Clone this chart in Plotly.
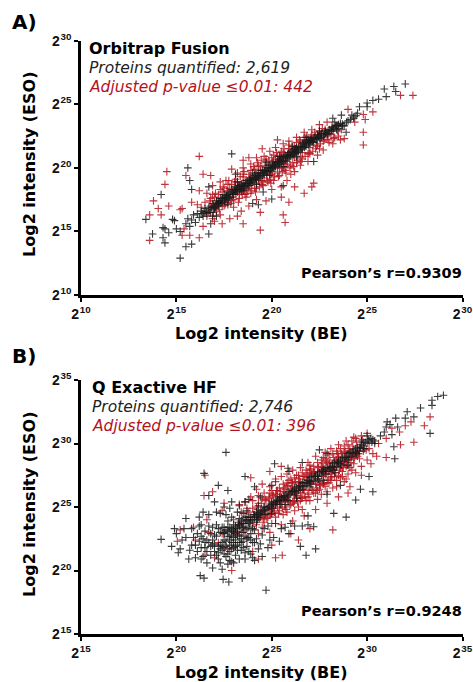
import plotly.graph_objects as go

# Panel A: (BE, ESO) log2 values
a_red = [(16.2,20.9),(14.5,19.7),(14.4,18.7),(13.8,17.4),(13.6,16.3),(13.6,14.3),(14.2,16.3),(14.05,16.8),(14.6,17.0),(15.2,16.7),(15.3,16.8),
(15.5,19.4),(15.8,17.3),(16.2,18.2),(16.4,19.5),(16.8,19.4),(15.7,14.7),(16.2,14.5),(15.3,14.7),(15.4,15.2),(27.4,25.7),(26.75,25.7),(25.3,24.4),
(24.8,24.2),(24.9,23.8),(24.8,22.8),(24.8,21.8),(24.0,24.6),(24.35,23.6),(23.8,22.3),(20.3,22.2),(19.5,21.5),(18.8,20.8),(18.5,20.6),(22.2,18.8),
(22.1,18.5),(21.7,18.0),(21.2,18.5),(21.2,19.7),(20.9,17.3),(20.5,17.7),(20.6,16.3),(20.7,15.7),(19.4,15.1),(18.5,15.6),(18.2,16.2),(19.4,16.5),
(17.0,15.8),(17.4,15.6),(16.4,15.4),(16.9,16.0),(17.3,16.3),(17.8,16.0),(18.0,16.9),(18.4,16.6),(18.8,17.0),(19.2,17.5),(19.7,17.4),(20.0,18.3),
(20.5,18.5),(20.8,19.0),(21.0,19.5),(21.5,20.2),(21.9,20.5),(22.4,21.0),(22.7,21.4),(23.2,21.9),(23.6,22.2),(16.6,18.0),(16.9,18.6),(17.3,18.9),
(17.6,19.0),(17.9,19.9),(18.2,19.6),(18.5,20.0),(18.9,20.3),(19.2,20.8),(19.6,20.9),(19.9,21.3),(20.2,21.6),(20.6,21.9),(20.9,22.1),(21.3,22.4),
(21.7,22.8),(22.1,23.0),(22.5,23.4),(22.9,23.6),(16.3,16.9),(16.6,16.2),(16.8,17.6),(17.0,16.9),(17.2,17.9),(17.4,17.0),(17.5,18.4),(17.7,17.3),
(17.9,18.7),(18.0,17.5),(18.2,18.9),(18.3,17.6),(18.5,19.3),(18.6,17.9),(18.8,19.5),(18.9,18.0),(19.1,19.9),(19.2,18.4),(19.4,20.1),(19.5,18.7),
(19.7,20.5),(19.8,18.9),(20.0,20.8),(20.1,19.0),(20.3,20.9),(20.4,19.4),(20.6,21.2),(20.7,19.8),(20.9,21.5),(21.0,20.2),(21.2,21.7),(21.3,20.4),
(21.5,22.1),(21.6,20.7),(21.8,22.2),(22.0,21.1),(22.3,22.5),(22.5,21.5),(22.8,23.0),(23.0,22.0),(23.4,23.3),(23.5,22.5),(16.1,17.1),(17.1,17.3),
(17.6,17.7),(18.1,18.2),(18.4,18.6),(18.7,18.3),(18.9,19.1),(19.3,19.0),(19.5,19.6),(19.9,19.5),(20.2,20.3),(20.5,20.0),(20.8,20.5),(21.1,21.1),
(16.5,17.3),(16.7,16.5),(16.9,17.9),(17.1,16.6),(17.3,18.3),(17.5,17.0),(17.7,18.7),(17.9,17.4),(18.1,19.1),(18.3,17.9),(18.5,19.5),(18.7,18.0),
(18.9,19.8),(19.1,18.4),(19.3,20.2),(19.5,18.9),(19.7,20.7),(19.9,19.1),(20.1,21.0),(20.3,19.6),(20.5,21.3),(20.7,20.1),(20.9,21.8),(21.1,20.4),
(21.3,22.0),(21.5,20.8),(21.7,22.4),(21.9,21.1),(22.1,22.6),(22.3,21.5),(22.5,22.9),(22.7,22.1),(23.1,22.6),(23.3,22.4),(16.8,17.0),(17.0,17.7),
(17.2,17.2),(17.4,18.1),(17.6,17.3),(17.8,18.4),(18.0,18.0),(18.2,18.4),(18.4,18.1),(18.6,19.0),(18.8,18.4),(19.0,19.3),(19.2,18.8),(19.4,19.8),
(19.6,19.2),(19.8,20.2),(20.0,19.5),(20.2,20.7),(20.4,20.0),(20.6,20.9),(20.8,20.3),(21.0,21.3),(21.2,20.8),(21.4,21.7),(21.6,21.2),(21.8,21.9),
(22.0,21.6),(22.2,22.3),(22.4,21.8),(22.6,22.7),
(16.75,17.4),(16.95,16.5),(17.05,18.0),(17.25,16.7),(17.45,18.5),(17.55,17.1),(17.75,19.0),(17.85,17.2),(18.05,18.9),(18.25,17.3),(18.35,19.3),(18.45,17.9),
(18.55,19.7),(18.65,17.7),(18.85,19.2),(18.95,18.2),(19.05,20.1),(19.15,18.1),(19.25,20.4),(19.35,18.5),(19.45,20.6),(19.55,18.6),(19.65,20.2),(19.75,19.0),
(19.85,20.6),(19.95,18.8),(20.05,20.5),(20.15,19.3),(20.25,21.2),(20.35,19.3),(20.45,20.9),(20.55,19.7),(20.65,21.5),(20.75,19.6),(20.85,21.1),(20.95,20.0),
(21.05,21.7),(21.15,20.1),(21.25,21.5),(21.35,20.6),(21.45,22.2),(21.55,20.5),(21.65,21.9),(21.75,20.9),(21.85,22.5),(21.95,21.2),(22.05,22.4),(22.15,21.3),
(22.25,22.8),(22.35,21.7),(22.45,22.5),(22.55,21.9),(22.65,23.1),(22.75,22.2),(22.85,22.6),(22.95,22.2),(23.15,23.2),(23.25,22.3),(23.45,22.9),(23.65,23.0),
(17.35,17.6),(17.65,18.2),(17.95,17.7),(18.25,18.6),(18.55,18.2),(18.85,18.6),(19.15,19.6),(19.45,19.0),(19.75,19.4),(20.05,19.7),(20.35,20.6),(20.65,20.3)]
a_black = [(14.2,17.9),(14.8,15.95),(14.9,15.85),(14.3,15.3),(14.4,15.2),(14.6,14.9),(13.75,14.8),(13.4,15.95),(14.3,14.5),(14.4,14.1),(15.0,15.2),
(15.2,15.0),(15.5,13.8),(15.8,14.0),(15.2,12.9),(16.7,14.8),(15.6,20.0),(15.7,19.0),(15.8,18.3),(16.7,18.5),(17.9,21.1),(18.1,19.5),(19.55,18.1),
(20.0,17.55),(19.3,17.1),(19.0,17.2),(22.2,20.5),(20.6,18.6),(16.8,15.6),(17.1,16.2),(27.0,26.6),(26.4,26.4),(25.9,26.2),(26.5,26.0),(26.0,25.6),
(25.6,25.4),(25.0,24.8),(24.6,24.8),(25.0,25.1),(25.3,25.3),(24.2,24.15),(24.3,23.9),(23.65,24.15),(23.9,22.8),(23.2,23.9),(23.5,23.4),(23.7,23.45),
(15.5,15.6),(15.6,16.0),(15.7,15.4),(15.8,15.9),(15.9,16.3),(16.0,15.7),(16.1,16.4),(16.2,16.1),(16.3,16.6),(16.4,16.2),(16.5,16.8),(16.6,16.4),
(16.7,16.9),(16.8,16.5),(16.9,17.2),(17.0,16.8),(17.1,17.4),(17.2,17.0),(17.3,17.6),(17.4,17.3),(17.5,17.9),(17.6,17.5),(17.7,18.1),(17.8,17.7),
(17.9,18.3),(18.0,17.9),(18.1,18.5),(18.2,18.1),(18.3,18.6),(18.4,18.2),(18.5,18.8),(18.6,18.5),(18.7,19.0),(18.8,18.6),(18.9,19.2),(19.0,18.9),
(19.1,19.4),(19.2,19.1),(19.3,19.6),(19.4,19.3),(19.5,19.8),(19.6,19.5),(19.7,20.0),(19.8,19.7),(19.9,20.2),(20.0,19.9),(20.1,20.4),(20.2,20.1),
(20.3,20.5),(20.4,20.3),(20.5,20.8),(20.6,20.5),(20.7,21.0),(20.8,20.7),(20.9,21.2),(21.0,20.9),(21.1,21.4),(21.2,21.1),(21.3,21.6),(21.4,21.3),
(21.5,21.7),(21.6,21.5),(21.7,22.0),(21.8,21.7),(21.9,22.2),(22.0,21.9),(22.1,22.3),(22.2,22.0),(22.4,22.6),(22.6,22.4),(22.8,22.9),(23.0,22.7),
(23.2,23.2),(23.4,23.0),(23.6,23.5),(23.8,23.3),(24.0,23.7),(24.3,24.0),(24.5,24.3),(16.9,16.2),(17.7,17.1),(18.5,18.2),(19.2,18.7),(19.9,19.4),
(20.6,20.1),(21.3,20.9),(18.2,18.9),(19.0,19.6),(19.7,20.4),(20.4,20.9),(21.1,21.7),(21.8,22.4),(22.5,22.9),(23.3,23.6),
(16.35,16.4),(16.55,16.6),(16.75,16.7),(16.95,17.0),(17.15,17.2),(17.35,17.4),(17.55,17.7),(17.75,17.9),(17.95,18.1),(18.15,18.3),(18.35,18.4),(18.55,18.6),
(18.75,18.8),(18.95,19.0),(19.15,19.2),(19.35,19.4),(19.55,19.6),(19.75,19.8),(19.95,20.0),(20.15,20.2),(20.35,20.4),(20.55,20.6),(20.75,20.8),(20.95,21.0),
(21.15,21.2),(21.35,21.4),(21.55,21.6),(21.75,21.8),(21.95,22.0),(22.15,22.1),(22.35,22.3),(22.55,22.6),(22.75,22.7),(22.95,22.9),(23.15,23.0),(23.35,23.3),
(16.45,16.5),(16.85,16.9),(17.25,17.3),(17.65,17.8),(18.05,18.2),(18.45,18.5),(18.85,18.9),(19.25,19.3),(19.65,19.7),(20.05,20.1),(20.45,20.5),(20.85,20.9),
(21.25,21.3),(21.65,21.7),(22.05,22.1),(22.45,22.5),(22.85,22.8),(23.25,23.1),
(17.05,16.9),(17.12,17.1),(17.22,17.3),(17.32,17.2),(17.42,17.6),(17.52,17.4),(17.62,17.8),(17.72,17.6),(17.82,18.0),(17.92,17.9),(18.02,18.3),(18.12,18.0),
(18.22,18.4),(18.32,18.3),(18.42,18.7),(18.52,18.4),(18.62,18.8),(18.72,18.7),(18.82,19.1),(18.92,18.8),(19.02,19.2),(19.12,19.1),(19.22,19.5),(19.32,19.2),
(19.42,19.6),(19.52,19.4),(19.62,19.8),(19.72,19.6),(19.82,20.0),(19.92,19.8),(20.02,20.3),(20.12,20.0),(20.22,20.4),(20.32,20.2),(20.42,20.7),(20.52,20.4),
(20.62,20.8),(20.72,20.6),(20.82,21.0),(20.92,20.8),(21.02,21.3),(21.12,21.0),(21.22,21.5),(21.32,21.2),(21.42,21.6),(21.52,21.4),(21.62,21.9),(21.72,21.6),
(21.82,22.1),(21.92,21.8),(22.02,22.2),(22.12,22.0),(22.22,22.4),(22.32,22.2),(22.42,22.4),(22.52,22.3),(22.62,22.7),(22.72,22.5),(22.82,22.7),(22.92,22.6),
(23.02,23.0),(23.12,22.9),(23.22,22.9),(23.42,23.3),(23.52,23.1),(23.72,23.3),(23.92,23.6),(24.12,23.8),(24.42,24.1)]

# Panel B: (BE, ESO) log2 values
b_red = [(21.5,27.5),(23.9,27.3),(25.5,28.2),(24.9,27.8),(28.2,23.2),(27.0,23.3),(26.4,22.4),(25.55,21.2),(25.2,21.0),(22.9,20.0),(33.3,32.1),
(33.0,31.4),(32.45,30.1),(31.75,29.9),(31.0,28.9),(30.5,29.0),(30.2,28.4),(29.7,27.5),(29.0,26.1),(20.2,23.2),(20.05,22.3),(21.0,22.4),(22.0,21.0),
(21.45,25.9),(21.9,26.2),(22.9,20.7),(22.7,21.7),(24.0,21.5),(23.2,22.8),(23.7,24.9),(23.3,25.2),(23.9,25.8),(24.2,26.4),(24.5,26.8),(24.9,26.6),
(25.2,27.2),(25.5,27.4),(25.8,27.6),(26.1,27.9),(26.5,28.1),(26.9,28.5),(27.3,29.0),(27.7,28.9),(28.1,29.6),(28.5,29.9),(28.9,30.2),(29.3,30.5),
(23.4,23.0),(23.7,22.6),(24.0,23.5),(24.3,22.9),(24.6,23.8),(24.9,23.0),(25.2,24.2),(25.5,23.6),(25.8,24.6),(26.1,23.9),(26.4,25.0),(26.7,24.3),
(27.0,25.5),(27.3,24.8),(27.6,26.0),(27.9,25.3),(28.2,26.5),(28.5,25.8),(28.8,27.0),(29.1,26.6),(29.4,27.7),(29.7,28.2),(30.0,28.7),(30.3,29.2),
(23.0,24.0),(23.4,24.6),(23.7,24.2),(24.0,24.9),(24.3,25.3),(24.6,25.0),(24.9,25.7),(25.2,26.0),(25.5,25.8),(25.8,26.6),(26.1,26.9),(26.4,26.6),
(26.7,27.4),(27.0,27.7),(27.3,27.4),(27.6,28.2),(27.9,28.5),(28.2,28.2),(28.5,29.0),(28.8,29.3),(29.1,29.0),(24.1,24.0),(24.5,24.4),(24.8,24.2),
(25.1,24.9),(25.4,24.7),(25.7,25.4),(26.0,25.2),(26.3,25.9),(26.6,25.7),(26.9,26.3),(27.2,26.1),(27.5,26.8),(27.8,26.6),(28.1,27.3),(28.4,27.1),
(28.7,27.8),(29.0,27.6),(29.3,28.4),(29.6,28.8),(24.4,24.7),(24.7,25.5),(25.0,25.3),(25.3,26.3),(25.6,26.2),(25.9,26.0),(26.2,26.4),(26.5,27.0),
(26.8,26.9),(27.1,27.0),(27.4,27.8),(27.7,27.4),(28.0,27.9),(28.3,28.6),(28.6,28.4),(30.6,30.0),(31.0,30.4),(31.3,31.2),(31.7,30.9),(32.0,31.4),
(32.3,31.7),(21.6,24.0),(22.4,24.7),(22.5,25.3),(22.2,22.2),(21.7,23.0),(20.9,23.4),(21.5,21.2),(22.4,22.9),(24.3,20.9),(25.0,22.0),(26.0,22.9),
(23.5,24.0),(23.8,24.6),(24.1,24.4),(24.2,25.0),(24.5,25.7),(24.7,24.5),(24.9,26.1),(25.0,24.7),(25.1,25.9),(25.3,25.0),(25.4,26.5),(25.5,25.2),
(25.6,26.8),(25.7,25.0),(25.8,26.9),(25.9,25.5),(26.0,27.2),(26.1,25.4),(26.2,27.3),(26.3,25.8),(26.4,27.5),(26.5,25.5),(26.6,27.7),(26.7,26.1),
(26.8,27.9),(26.9,25.8),(27.0,28.0),(27.1,26.4),(27.2,28.2),(27.3,26.1),(27.4,28.5),(27.5,26.4),(27.6,28.7),(27.7,26.8),(27.8,28.8),(27.9,26.9),
(28.0,29.1),(28.1,27.1),(28.2,29.2),(28.3,27.4),(28.4,29.4),(28.5,27.5),(28.6,29.6),(28.7,27.4),(28.8,29.8),(28.9,28.2),(29.0,29.9),(29.1,28.1),
(29.2,30.2),(29.3,28.8),(29.4,30.4),(29.5,29.0),(29.7,30.6),(29.8,29.4),(30.0,30.8),(30.1,29.6),(23.3,23.6),(23.6,23.2),(23.9,24.0),(24.2,23.6),
(24.4,24.2),(24.6,24.4),(24.8,25.0),(25.0,24.9),(25.2,25.4),(25.4,25.3),(25.6,25.9),(25.8,25.6),(26.0,26.4),(26.2,26.0),(26.4,26.9),(26.6,26.4),
(26.8,27.3),(27.0,26.9),(27.2,27.7),(27.4,27.2),(27.6,27.9),(27.8,27.6),(28.0,28.4),(28.2,27.9),(28.4,28.7),(28.6,28.1),(28.8,28.9),(29.0,28.7),
(29.2,29.3),(29.4,29.1),(29.6,29.7),(29.8,29.6),(25.3,25.6),(25.7,26.4),(26.1,26.2),(26.5,26.3),(26.9,27.5),(27.3,27.0),(27.7,28.1),(28.1,28.0),
(28.5,28.8),(28.9,28.5),(25.2,27.0),(25.0,26.3),(24.6,26.1),(24.3,25.9),(24.0,25.5),(23.6,25.4),(26.6,24.8),(26.2,24.7),(25.6,24.4),(25.0,23.7),
(24.5,23.4),(27.4,25.6),(27.9,26.2),(28.4,26.6),(28.9,27.2),
(24.25,24.8),(24.35,24.1),(24.45,25.3),(24.55,24.0),(24.65,25.6),(24.75,24.1),(24.85,25.8),(24.95,24.4),(25.05,26.0),(25.15,24.6),(25.25,26.3),(25.35,24.5),
(25.45,26.2),(25.55,24.9),(25.65,26.5),(25.75,24.8),(25.85,26.7),(25.95,25.1),(26.05,26.9),(26.15,25.3),(26.25,27.0),(26.35,25.4),(26.45,27.2),(26.55,25.7),
(26.65,27.4),(26.75,25.8),(26.85,27.6),(26.95,26.0),(27.05,27.9),(27.15,26.3),(27.25,27.8),(27.35,26.5),(27.45,28.1),(27.55,26.7),(27.65,28.4),(27.75,26.9),
(27.85,28.6),(27.95,27.2),(28.05,28.7),(28.15,27.4),(28.25,28.9),(28.35,27.7),(28.45,29.2),(28.55,27.9),(28.65,29.2),(28.75,28.1),(28.85,29.4),(28.95,28.3),
(29.05,29.6),(29.15,28.5),(29.25,29.8),(29.35,28.9),(29.45,30.1),(29.55,29.2),(29.75,30.3),(29.95,29.5),(24.9,24.4),(25.3,25.8),(25.7,25.7),(26.1,26.6),
(26.5,26.1),(26.9,27.1),(27.3,26.8),(27.7,27.7),(28.1,27.6),(28.5,28.4),(28.9,28.9),(29.3,29.1),(25.1,25.1),(25.5,25.5),(25.9,25.9),(26.3,26.2),
(26.7,26.6),(27.1,27.6),(27.5,27.0),(27.9,27.8),(28.3,28.1),(28.7,28.6),(29.1,29.4),(29.5,29.4),(24.6,24.8),(25.9,27.1),(26.3,27.5),(27.0,28.3),
(27.8,29.3),(26.2,25.5),(26.8,25.5),(27.4,26.3),(28.0,26.9),(28.6,27.3),(29.2,27.9)]
b_black = [(19.2,22.45),(19.75,21.9),(20.1,21.4),(20.65,20.9),(19.9,23.3),(20.5,24.1),(21.2,24.2),(21.3,23.6),(21.45,27.65),(22.6,29.3),(25.15,28.4),
(25.85,28.05),(23.6,27.4),(22.2,26.7),(21.25,19.6),(21.45,19.4),(22.45,19.3),(22.75,19.1),(23.45,19.4),(24.7,18.45),(33.3,30.8),(34.0,33.8),(33.7,33.7),
(33.4,33.4),(33.4,33.0),(32.8,32.8),(32.1,32.5),(32.0,32.0),(32.45,32.1),(31.5,32.0),(31.05,31.7),(31.0,31.3),(31.3,30.7),(31.4,29.75),(31.45,28.8),
(30.1,27.4),(30.3,26.2),(29.65,26.4),(29.4,25.55),(28.9,24.2),(28.25,24.5),(27.3,21.7),(26.8,21.2),(27.2,23.45),(26.5,21.9),(26.0,23.7),(26.6,23.5),
(20.0,22.9),(20.2,21.7),(20.5,22.6),(20.7,21.6),(20.8,23.3),(21.0,21.0),(21.0,22.0),(21.1,22.9),(21.2,23.5),(21.3,20.9),(21.3,21.8),(21.4,22.5),
(21.5,23.1),(21.6,20.6),(21.6,21.5),(21.7,22.2),(21.7,24.4),(21.8,22.9),(21.9,23.4),(21.9,20.2),(22.0,21.5),(22.0,22.1),(22.1,22.7),(22.1,24.6),
(22.2,20.9),(22.2,21.4),(22.3,22.0),(22.3,23.0),(22.4,20.1),(22.4,21.6),(22.5,22.4),(22.5,23.4),(22.6,21.1),(22.6,21.9),(22.7,22.7),(22.7,23.9),
(22.8,20.8),(22.8,21.5),(22.9,22.2),(22.9,23.1),(23.0,21.8),(23.0,22.6),(23.1,23.4),(23.1,21.2),(23.2,22.0),(23.2,24.6),(23.3,22.8),(23.3,20.9),
(23.4,21.6),(23.4,23.7),(23.5,22.3),(23.5,23.0),(23.6,20.9),(23.6,24.2),(23.7,21.9),(23.7,23.3),(23.8,22.6),(23.9,21.3),(23.9,23.9),(24.0,22.2),
(24.1,20.8),(24.1,23.2),(24.3,21.7),(24.3,24.2),(24.5,21.1),(24.5,22.8),(24.8,21.8),(24.8,23.5),(25.1,22.6),(25.5,23.3),(25.9,22.9),(22.6,23.2),
(22.8,23.4),(23.0,23.6),(23.2,23.3),(23.4,23.9),(23.6,23.7),(23.8,24.2),(24.0,24.0),(24.2,24.6),(24.4,24.4),(24.6,25.0),(24.8,24.8),(25.0,25.4),
(25.2,25.2),(25.4,25.8),(25.6,25.6),(25.8,26.1),(26.0,26.0),(26.2,26.5),(26.4,26.3),(26.6,26.9),(26.8,26.7),(27.0,27.3),(27.2,27.1),(27.4,27.6),
(27.6,27.5),(27.8,28.0),(28.0,27.8),(28.2,28.4),(28.4,28.2),(28.6,28.7),(28.8,28.6),(29.0,29.2),(29.2,29.0),(29.4,29.6),(29.6,29.4),(29.8,30.1),
(30.0,30.0),(30.2,30.4),(30.4,30.2),(30.0,30.6),(29.7,30.2),(24.3,25.1),(25.0,24.5),(25.7,25.2),(26.3,25.7),(27.0,26.6),(27.7,27.1),(28.3,27.7),
(29.0,28.3),(23.6,25.4),(24.1,26.6),(22.9,25.4),(22.5,25.0),(22.0,25.4),(21.7,25.9),(22.7,26.3),(25.0,26.7),(25.9,27.8),(26.6,28.5),(27.5,29.5),
(27.9,29.2),(30.9,30.9),(31.2,31.5),(31.6,31.3),(30.7,30.6),(28.6,26.7),(27.9,26.0),(26.9,24.3),(30.4,30.0),
(22.1,21.2),(22.3,21.7),(22.5,21.3),(22.6,22.3),(22.7,21.3),(22.8,22.0),(22.9,21.7),(23.0,22.2),(23.0,23.0),(23.1,21.9),(23.1,22.4),(23.2,22.7),
(23.2,23.1),(23.3,22.2),(23.3,23.5),(23.4,22.5),(23.5,21.8),(23.5,23.4),(23.6,22.7),(23.7,22.5),(23.8,23.4),(23.9,22.9),(24.0,23.3),(24.2,22.5),
(21.9,22.4),(22.2,23.3),(22.4,22.2),(22.5,22.9),(22.7,23.1),(22.8,22.7),(22.9,22.8),(23.0,23.2),(21.8,21.9),(21.5,22.2),(21.2,22.3),(20.9,22.6),
(22.5,23.0),(22.7,23.4),(22.9,23.3),(23.1,23.5),(23.3,23.6),(23.5,23.7),(23.7,23.9),(23.9,24.2),(24.1,24.2),(24.3,24.5),(24.5,24.7),(24.7,24.9),
(24.9,25.1),(25.1,25.3),(25.3,25.5),(25.5,25.7),(25.7,25.9),(25.9,26.2),(26.1,26.3),(26.3,26.5),(26.5,26.7),(26.7,26.9),(26.9,27.1),(27.1,27.4),
(27.3,27.5),(27.5,27.7),(27.7,27.9),(27.9,28.1),(28.1,28.2),(28.3,28.5),(28.5,28.6),(28.7,28.9),(28.9,29.0),(29.1,29.3),(29.3,29.5),(29.5,29.7),
(29.7,29.9),(29.9,30.1),(30.1,30.2),(30.3,30.3),(23.8,23.8),(24.2,24.3),(24.6,24.7),(25.0,25.2),(25.4,25.5),(25.8,25.8),(26.2,26.2),(26.6,26.6),
(27.0,27.0),(27.4,27.4),(27.8,27.8),(28.2,28.1),(28.6,28.4),(29.0,28.9),(29.4,29.3),(29.8,29.8),
(23.25,23.8),(23.45,23.4),(23.65,24.0),(23.85,23.7),(24.05,24.4),(24.25,24.0),(24.45,24.6),(24.65,24.4),(24.85,25.0),(25.05,24.9),(25.25,25.4),(25.45,25.2),
(25.65,25.8),(25.85,25.5),(26.05,26.2),(26.25,26.1),(26.45,26.6),(26.65,26.4),(26.85,26.9),(27.05,26.8),(27.25,27.4),(27.45,27.2),(27.65,27.8),(27.85,27.6),
(28.05,28.1),(28.25,27.9),(28.45,28.5),(28.65,28.3),(28.85,28.8),(29.05,28.7),(29.25,29.2),(29.45,29.2),(29.65,29.7),(29.85,29.6),(30.05,30.3),(30.25,30.1),
(21.1,21.5),(21.3,22.7),(21.4,21.1),(21.5,21.8),(21.6,22.4),(21.7,23.5),(21.8,21.2),(21.9,22.0),(22.0,22.8),(22.1,23.6),(22.2,21.9),(22.3,20.6),
(22.4,23.4),(22.5,21.8),(22.6,24.4),(22.7,20.5),(22.8,22.4),(22.9,24.2),(23.0,20.6),(23.1,22.9),(23.2,21.6),(23.3,24.1),(23.4,22.2),(23.5,24.5),
(23.6,21.4),(23.7,24.7),(23.8,21.5),(23.9,22.4),(24.0,21.0),(24.1,22.2),(24.2,23.8),(24.4,22.1),(24.6,23.3),(24.9,22.4),(25.2,23.7),(25.4,22.3),
(25.7,23.4),(26.2,23.5),(26.9,23.6),(22.3,24.5),(22.8,24.9),(23.3,25.1),(23.8,25.6),(24.4,25.8),(21.4,24.6),(20.8,22.0),(20.4,23.3),(20.3,22.4)]

x_ticks_a = [10, 15, 20, 25, 30]
y_ticks_a = [10, 15, 20, 25, 30]
x_ticks_b = [15, 20, 25, 30, 35]
y_ticks_b = [15, 20, 25, 30, 35]

RED = "#b3131c"
BLACK = "#1a1a1a"
W, H = 473, 682
FONT = "DejaVu Sans"
TICK_FONT = "Liberation Sans"

fig = go.Figure()


def scatter(points, color, xa, ya):
    fig.add_trace(go.Scatter(
        x=[p[0] for p in points], y=[p[1] for p in points], mode="markers",
        xaxis=xa, yaxis=ya, showlegend=False, hoverinfo="skip",
        marker=dict(symbol="cross-thin", size=5.5, opacity=0.85,
                    line=dict(color=color, width=1.1)),
    ))


scatter(a_red, RED, "x", "y")
scatter(a_black, BLACK, "x", "y")
scatter(b_red, RED, "x2", "y2")
scatter(b_black, BLACK, "x2", "y2")


def fx(p):
    return p / W


def fy(p):
    return 1 - p / H


def axis(domain, ticks, **kw):
    return dict(domain=domain, range=[ticks[0], ticks[-1]], tickmode="array", tickvals=ticks,
                ticktext=[f"<b>2</b><sup><b>\u200a{t}</b></sup>" for t in ticks],
                showgrid=False, zeroline=False, showline=True, linecolor="black", linewidth=2.5,
                ticks="outside", ticklen=4, tickwidth=2, tickcolor="black",
                ticklabeloverflow="allow",
                tickfont=dict(family=TICK_FONT, size=14, color="#111"), **kw)


fig.update_layout(
    width=W, height=H, autosize=False, margin=dict(l=0, r=0, t=0, b=0, autoexpand=False),
    paper_bgcolor="white", plot_bgcolor="white", font=dict(family=FONT),
    xaxis=axis([fx(81), fx(462.5)], x_ticks_a, anchor="y"),
    yaxis=axis([fy(295), fy(40.7)], y_ticks_a, anchor="x"),
    xaxis2=axis([fx(81), fx(462.5)], x_ticks_b, anchor="y2"),
    yaxis2=axis([fy(634), fy(380)], y_ticks_b, anchor="x2"),
)


def label(px, py, text, size, color="black", anchor="left", angle=0):
    fig.add_annotation(x=fx(px), y=fy(py), xref="paper", yref="paper", text=text, showarrow=False,
                       xanchor=anchor, yanchor="middle", textangle=angle,
                       font=dict(family=FONT, size=size, color=color))


label(10, 22, "<b>A)</b>", 20)
label(87, 48, "<b>Orbitrap Fusion</b>", 16)
label(87, 67.5, "<i>Proteins quantified: 2,619</i>", 15.5, "#222")
label(87, 87, "<i>Adjusted p-value ≤0.01: 442</i>", 15.5, RED)
label(464, 273, "<b>Pearson’s r=0.9309</b>", 14.5, anchor="right")
label(29, 165, "<b>Log2 intensity (ESO)</b>", 16, anchor="center", angle=-90)
label(261, 333, "<b>Log2 intensity (BE)</b>", 16, anchor="center")

label(10, 356, "<b>B)</b>", 20)
label(90, 387, "<b>Q Exactive HF</b>", 16)
label(90, 407, "<i>Proteins quantified: 2,746</i>", 15.5, "#222")
label(90, 426, "<i>Adjusted p-value ≤0.01: 396</i>", 15.5, RED)
label(464, 611, "<b>Pearson’s r=0.9248</b>", 14.5, anchor="right")
label(29, 505, "<b>Log2 intensity (ESO)</b>", 16, anchor="center", angle=-90)
label(261, 672, "<b>Log2 intensity (BE)</b>", 16, anchor="center")

fig.write_html("out.html", config={"displayModeBar": False},
               post_script="document.body.style.margin='0';document.documentElement.style.overflow='hidden';")
